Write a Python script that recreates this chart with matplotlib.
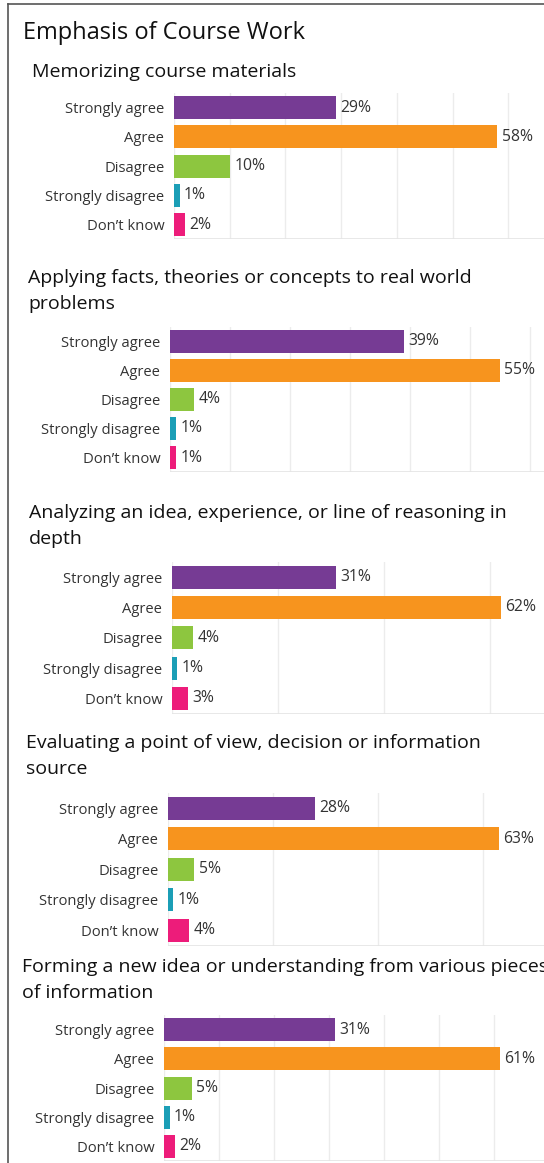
import matplotlib
matplotlib.use("Agg")
import matplotlib.pyplot as plt
from matplotlib.lines import Line2D

plt.rcParams["font.family"] = ["Open Sans", "DejaVu Sans"]

W, H = 544, 1163

categories = ["Strongly agree", "Agree", "Disagree", "Strongly disagree", "Don\u2019t know"]
colors = ["#763b94", "#f7941e", "#8dc63f", "#1b9eb6", "#ed1c7a"]

memorizing = [29, 58, 10, 1, 2]
applying = [39, 55, 4, 1, 1]
analyzing = [31, 62, 4, 1, 3]
evaluating = [28, 63, 5, 1, 4]
forming = [31, 61, 5, 1, 2]

titles = [
    "Memorizing course materials",
    "Applying facts, theories or concepts to real world\nproblems",
    "Analyzing an idea, experience, or line of reasoning in\ndepth",
    "Evaluating a point of view, decision or information\nsource",
    "Forming a new idea or understanding from various pieces\nof information",
]
series = [memorizing, applying, analyzing, evaluating, forming]

# layout in pixels: title x, title baseline, axis left, axis top, row spacing, px per %, grid step
layout = [
    (32, 77, 174, 93, 29.25, 5.57, 10),
    (28, 283, 170, 327, 29.0, 6.0, 10),
    (29, 518, 172, 562, 30.3, 5.3, 20),
    (26, 748, 168, 793, 30.5, 5.25, 20),
    (22, 972, 164, 1015, 29.2, 5.5, 10),
]

fig = plt.figure(figsize=(W / 100, H / 100), dpi=100)


def fy(y):
    return 1 - y / H


# outer frame
fig.add_artist(Line2D([8 / W, 8 / W], [0, fy(4)], color="#555555", lw=1.2))
fig.add_artist(Line2D([8 / W, 1], [fy(4), fy(4)], color="#555555", lw=1.2))

fig.text(23 / W, fy(38.7), "Emphasis of Course Work", fontsize=17, color="#111111", va="baseline")

for title, vals, (tx, ty, left, top, sp, ppp, step) in zip(titles, series, layout):
    lines = title.split("\n")
    for i, line in enumerate(lines):
        fig.text(tx / W, fy(ty + i * 26), line, fontsize=14, color="#111111", va="baseline")

    height = 5 * sp
    ax = fig.add_axes([left / W, fy(top + height), (W - left) / W, height / H])
    xmax = (W - left) / ppp
    ax.set_xlim(0, xmax)
    ax.set_ylim(4.5, -0.5)
    for x in range(0, int(xmax) + step, step):
        ax.axvline(x, color="#ececec", lw=1, zorder=0)
    ax.axhline(4.5, color="#e4e4e4", lw=1.2, zorder=0)

    ypos = list(range(len(categories)))
    ax.barh(ypos, vals, height=23 / sp, color=colors, zorder=2)
    for y, v in zip(ypos, vals):
        ax.text(v + 4.5 / ppp, y, f"{v}%", va="center", ha="left", fontsize=11.3, color="#333333")

    ax.set_yticks(ypos)
    ax.set_yticklabels(categories, fontsize=10.6, color="#333333")
    ax.tick_params(axis="y", length=0, pad=7)
    ax.set_xticks([])
    for s in ax.spines.values():
        s.set_visible(False)
    ax.patch.set_alpha(0)

fig.savefig("out.png", dpi=100)
